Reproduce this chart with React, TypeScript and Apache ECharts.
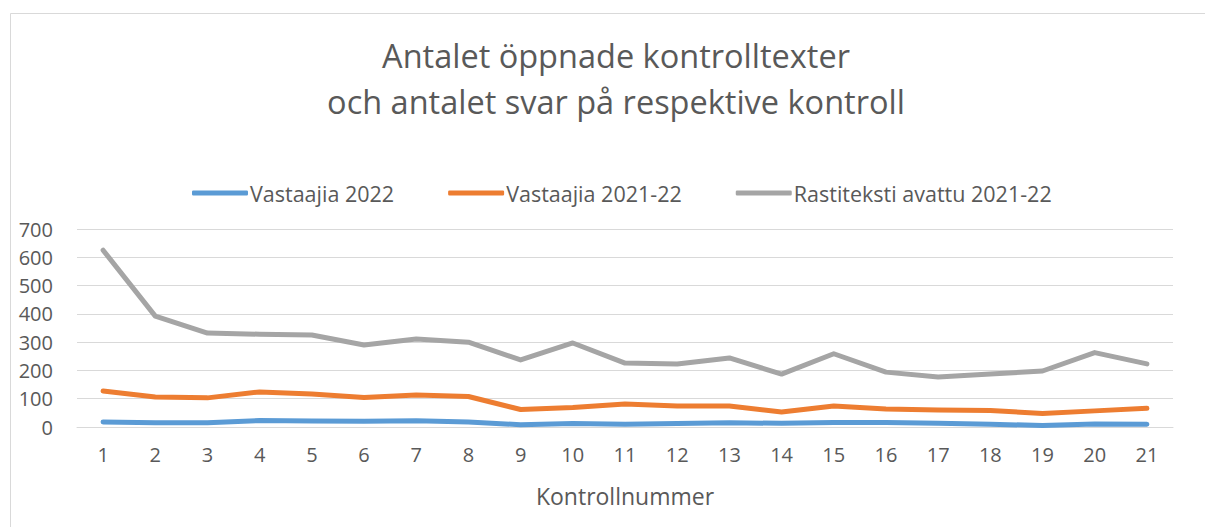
import React, { useEffect, useRef } from "react";
import * as echarts from "echarts";

const categories = ["1","2","3","4","5","6","7","8","9","10","11","12","13","14","15","16","17","18","19","20","21"];
const vastaajia2022 = [18,15,15,23,21,20,22,18,8,12,10,12,15,13,16,16,13,10,5,11,10];
const vastaajia202122 = [127,106,103,124,117,104,113,108,62,69,81,74,74,53,74,64,60,58,48,57,66];
const rastiteksti = [625,392,332,328,325,290,311,300,237,297,226,223,244,187,259,194,177,187,198,263,223];
const seriesNames = ["Vastaajia 2022", "Vastaajia 2021-22", "Rastiteksti avattu 2021-22"];
const colors = ["#5b9bd5", "#ed7d31", "#a5a5a5"];
const titleText = "Antalet öppnade kontrolltexter\noch antalet svar på respektive kontroll";

const FONT = "Open Sans";

export default function App() {
  const ref = useRef<HTMLDivElement>(null);
  useEffect(() => {
    document.body.style.margin = "0";
    const chart = echarts.init(ref.current!, null, { renderer: "svg" });
    const dataSets = [vastaajia2022, vastaajia202122, rastiteksti];
    chart.setOption({
      animation: false,
      backgroundColor: "#ffffff",
      textStyle: { fontFamily: FONT },
      graphic: [
        {
          type: "rect",
          shape: { x: 10.5, y: 13.5, width: 1300, height: 600 },
          style: { fill: "none", stroke: "#d9d9d9", lineWidth: 1 },
          silent: true,
        },
        {
          type: "text",
          x: 616,
          y: 32,
          silent: true,
          style: {
            text: titleText,
            fontFamily: FONT,
            fontSize: 32.5,
            fill: "#595959",
            lineHeight: 46,
            align: "center",
            verticalAlign: "top",
          },
        },
      ],
      legend: {
        top: 177,
        left: 187,
        itemWidth: 56,
        itemHeight: 5,
        itemGap: 54,
        icon: "roundRect",
        data: seriesNames,
        textStyle: { fontFamily: FONT, fontSize: 21.5, color: "#595959", padding: [0, 0, 0, -3] },
      },
      grid: { left: 77, right: 32, top: 229, bottom: 100, containLabel: false },
      xAxis: {
        type: "category",
        data: categories,
        boundaryGap: true,
        name: "Kontrollnummer",
        nameLocation: "middle",
        nameGap: 57,
        nameTextStyle: { fontFamily: FONT, fontSize: 23, color: "#595959" },
        axisLine: { lineStyle: { color: "#d9d9d9", width: 1 } },
        axisTick: { show: false },
        axisLabel: { fontFamily: FONT, fontSize: 20, color: "#595959", margin: 17 },
      },
      yAxis: {
        type: "value",
        min: 0,
        max: 700,
        interval: 100,
        axisLine: { show: false },
        axisTick: { show: false },
        axisLabel: { fontFamily: FONT, fontSize: 20, color: "#595959", margin: 24 },
        splitLine: { lineStyle: { color: "#d9d9d9", width: 1 } },
      },
      series: seriesNames.map((name, i) => ({
        name,
        type: "line",
        data: dataSets[i],
        symbol: "none",
        color: colors[i],
        lineStyle: { width: 5, color: colors[i], cap: "round", join: "round" },
      })),
    });
    return () => chart.dispose();
  }, []);
  return <div ref={ref} style={{ width: 1205, height: 527 }} />;
}
